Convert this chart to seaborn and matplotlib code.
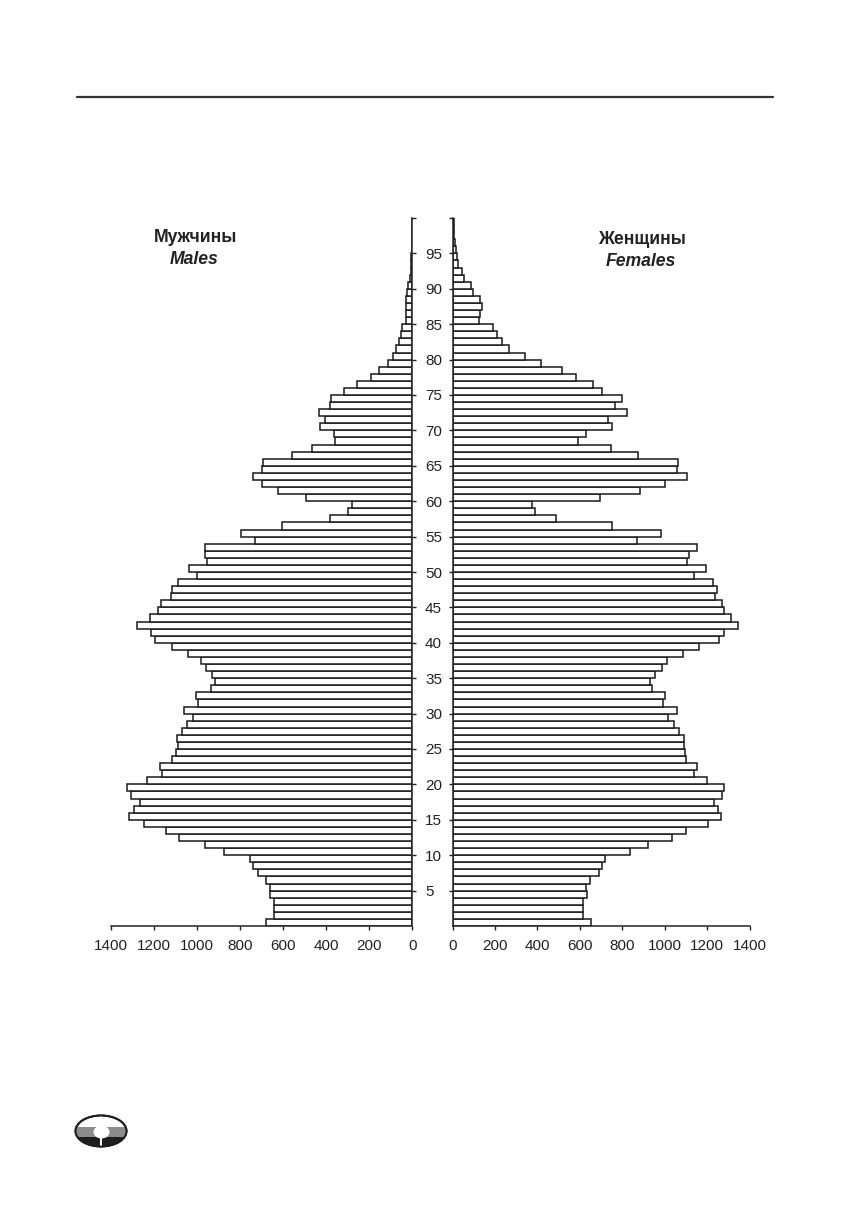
import numpy as np
import pandas as pd
import matplotlib
matplotlib.use("Agg")
import matplotlib.pyplot as plt
from matplotlib.patches import Ellipse, Rectangle
import seaborn as sns

# ---------------- data (thousands of persons, single-year ages 0..99) ----------------
ages = list(range(0, 100))
males = [682, 643, 643, 643, 663, 662, 680, 717, 740, 753,
         875, 963, 1083, 1144, 1248, 1315, 1292, 1267, 1307, 1327,
         1234, 1165, 1172, 1117, 1098, 1089, 1092, 1070, 1048, 1017,
         1061, 996, 1007, 934, 918, 931, 960, 983, 1041, 1118,
         1197, 1214, 1279, 1219, 1183, 1169, 1123, 1118, 1089, 999,
         1036, 952, 962, 963, 729, 798, 606, 383, 297, 279,
         494, 626, 697, 742, 697, 694, 561, 466, 359, 362,
         427, 406, 435, 383, 378, 316, 257, 194, 153, 112,
         88, 74, 63, 54, 46, 31, 28, 28, 28, 25,
         19, 11, 8, 6, 5, 3, 2, 1, 1, 0.5]
females = [654, 613, 614, 614, 633, 630, 647, 690, 707, 721,
           839, 922, 1036, 1099, 1204, 1268, 1251, 1232, 1270, 1278,
           1202, 1140, 1151, 1102, 1097, 1090, 1090, 1068, 1044, 1017,
           1058, 992, 1003, 941, 930, 953, 989, 1013, 1085, 1163,
           1257, 1278, 1347, 1312, 1279, 1270, 1238, 1246, 1229, 1137,
           1193, 1105, 1116, 1151, 872, 985, 752, 486, 387, 373,
           693, 883, 1003, 1104, 1057, 1064, 876, 745, 593, 630,
           754, 734, 821, 765, 798, 707, 660, 583, 516, 417,
           342, 265, 232, 210, 193, 127, 130, 138, 130, 97,
           85, 56, 47, 28, 22, 17, 13, 9, 6, 5]
age_ticks = list(range(5, 100, 5))
x_ticks = list(range(0, 1401, 200))
male_label = ("Мужчины", "Males")
female_label = ("Женщины", "Females")

df = pd.DataFrame({"age": np.array(ages) + 0.5, "males": males, "females": females})

# ---------------- style ----------------
sns.set_theme(style="ticks")
plt.rcParams["font.family"] = ["Liberation Sans", "DejaVu Sans"]
ink = "#222222"

W, H = 843, 1220
fig = plt.figure(figsize=(W / 100, H / 100), dpi=100)
fig.patch.set_facecolor("white")

def fx(px):
    return px / W

def fy(py):
    return 1 - py / H

bottom_px, top_px = 926, 218
axl = fig.add_axes([fx(111), fy(bottom_px), fx(412.3 - 111), (bottom_px - top_px) / H])
axr = fig.add_axes([fx(452.5), fy(bottom_px), fx(749.5 - 452.5), (bottom_px - top_px) / H])

bar_kw = dict(orient="y", native_scale=True, width=1.0, color="white",
              edgecolor="#1a1a1a", linewidth=1.1, errorbar=None, saturation=1)
sns.barplot(data=df, x="males", y="age", ax=axl, **bar_kw)
sns.barplot(data=df, x="females", y="age", ax=axr, **bar_kw)

for ax in (axl, axr):
    ax.set_ylim(0, 100)
    ax.set_xlabel("")
    ax.set_ylabel("")
    ax.set_facecolor("white")
    ax.set_xticks(x_ticks)
    ax.set_xticklabels([str(v) for v in x_ticks])
    ax.tick_params(axis="x", direction="out", length=3.2, width=1.0, color=ink,
                   labelsize=11, labelcolor=ink, pad=6.5)
    ax.spines["top"].set_visible(False)
    for s in ax.spines.values():
        s.set_linewidth(1.1)
        s.set_color(ink)
    ax.set_yticks(age_ticks + [100])

axl.set_xlim(1400, 0)
axr.set_xlim(0, 1400)

# left panel: ticks on its right edge, age labels in the central gap
axl.spines["left"].set_visible(False)
axl.yaxis.tick_right()
axl.set_yticklabels([str(a) for a in age_ticks] + [""])
axl.tick_params(axis="y", direction="out", length=3.2, width=1.0, color=ink,
                labelsize=11, labelcolor=ink, pad=6.0)

axr.spines["right"].set_visible(False)
axr.yaxis.tick_left()
axr.set_yticklabels([""] * (len(age_ticks) + 1))
axr.tick_params(axis="y", direction="out", length=3.2, width=1.0, color=ink)

# ---------------- panel labels ----------------
fig.text(fx(196), fy(237), male_label[0], ha="center", va="center",
         fontsize=12.7, fontweight="bold", color=ink)
fig.text(fx(194), fy(259), male_label[1], ha="center", va="center",
         fontsize=12.7, fontweight="bold", fontstyle="italic", color=ink)
fig.text(fx(642), fy(240), female_label[0], ha="center", va="center",
         fontsize=12.7, fontweight="bold", color=ink)
fig.text(fx(641), fy(262), female_label[1], ha="center", va="center",
         fontsize=12.7, fontweight="bold", fontstyle="italic", color=ink)

# ---------------- page header rule ----------------
fig.add_artist(plt.Line2D([fx(77), fx(773)], [fy(97), fy(97)], color="#333333",
                          linewidth=1.6, transform=fig.transFigure))

# ---------------- publisher logo ----------------
lax = fig.add_axes([fx(74), fy(1149), fx(54), 36 / H])
lax.set_xlim(0, 54)
lax.set_ylim(0, 36)
lax.axis("off")
outline = Ellipse((27, 18), 51, 31, facecolor="white", edgecolor="#1e1e1e", linewidth=1.4)
lax.add_patch(outline)
for y0, hgt, col in [(0, 12.5, "#1e1e1e"), (12.5, 9.5, "#8c8c8c")]:
    r = Rectangle((0, y0), 54, hgt, facecolor=col, edgecolor="none")
    lax.add_patch(r)
    r.set_clip_path(outline)
gap = Rectangle((26.2, 0), 1.8, 36, facecolor="white", edgecolor="none")
lax.add_patch(gap)
gap.set_clip_path(outline)
lax.add_patch(Ellipse((27.5, 17), 16, 13, facecolor="white", edgecolor="none"))
lax.add_patch(Ellipse((27, 18), 51, 31, facecolor="none", edgecolor="#1e1e1e", linewidth=1.4))

fig.savefig("out.png", dpi=100, facecolor="white")
